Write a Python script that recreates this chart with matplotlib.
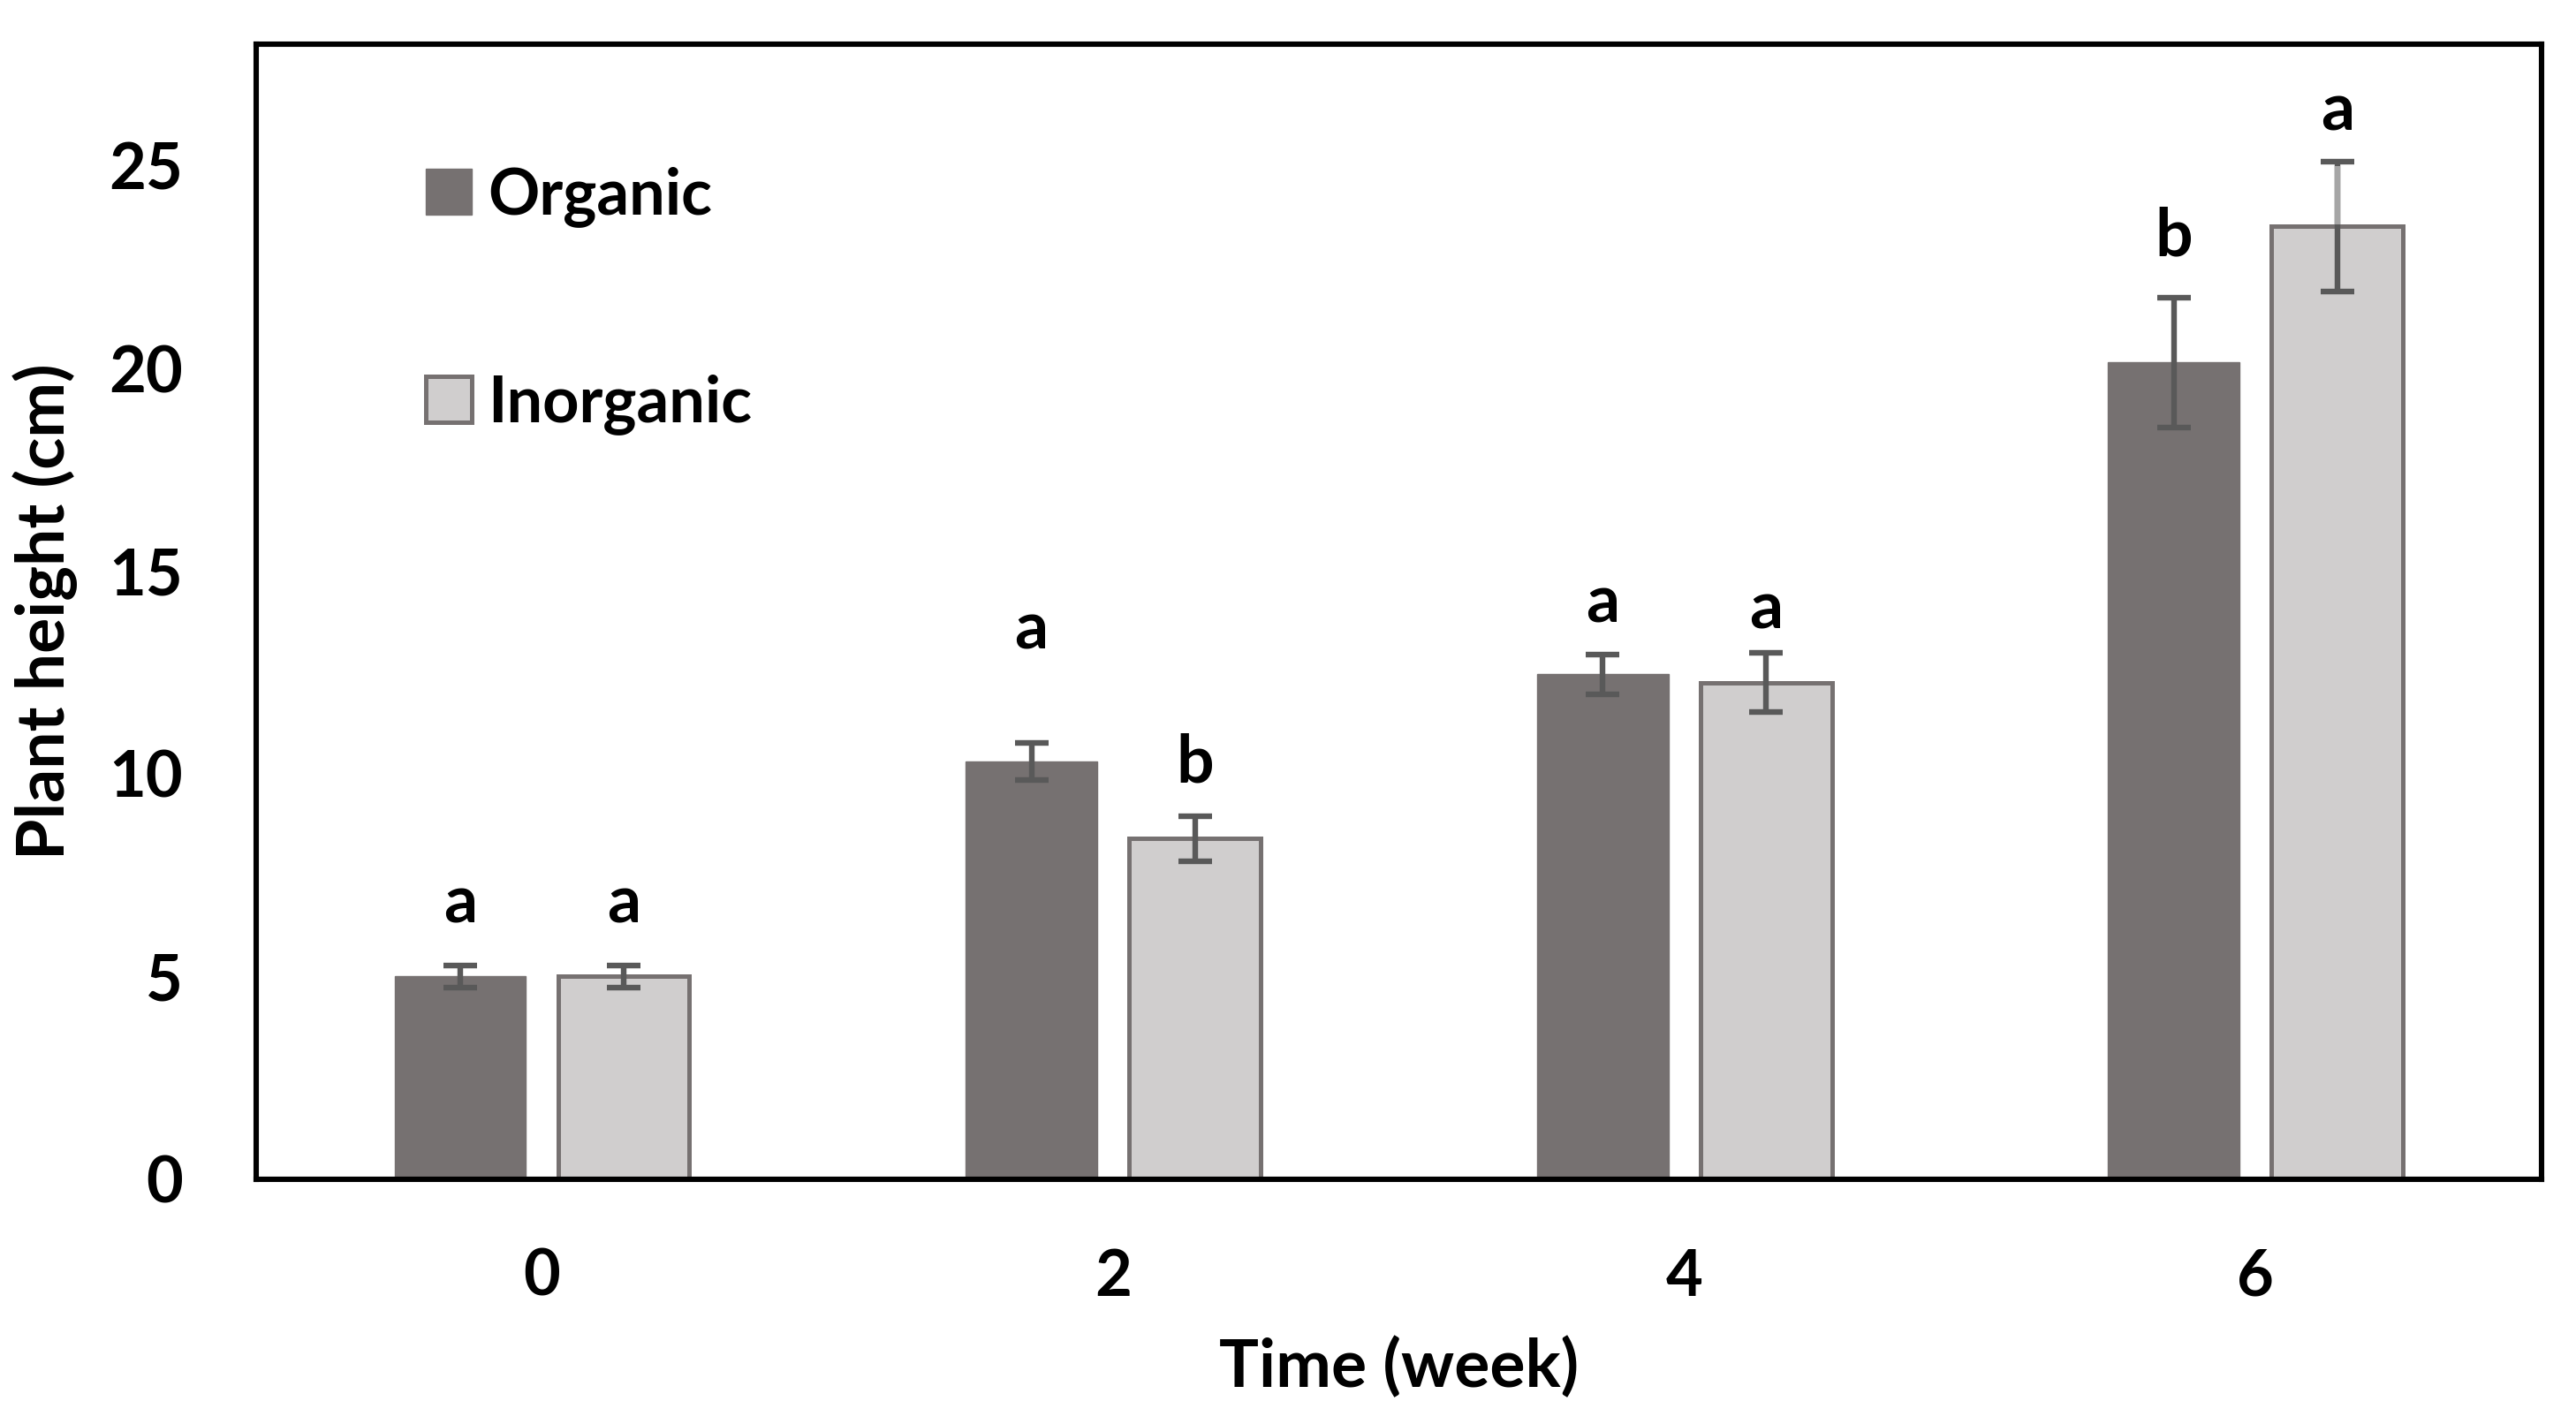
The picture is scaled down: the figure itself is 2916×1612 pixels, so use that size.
import numpy as np
import matplotlib
matplotlib.use("Agg")
import matplotlib.pyplot as plt

plt.rcParams['font.family'] = ['Lato', 'DejaVu Sans']
plt.rcParams['font.weight'] = 'bold'

weeks = ['0', '2', '4', '6']
organic = [5.0, 10.3, 12.45, 20.15]
organic_err = [0.27, 0.45, 0.5, 1.6]
inorganic = [5.0, 8.4, 12.25, 23.5]
inorganic_err = [0.27, 0.55, 0.73, 1.6]
organic_letters = ['a', 'a', 'a', 'b']
inorganic_letters = ['a', 'b', 'a', 'a']
organic_letter_y = [6.8, 13.55, 14.2, 23.25]
inorganic_letter_y = [6.8, 10.25, 14.05, 26.35]

dark = '#767171'
light = '#D0CECE'
errc = '#595959'

fig = plt.figure(figsize=(14.58, 8.06), dpi=200)
ax = fig.add_axes([0.0995, 0.172, 0.887, 0.797])

x = np.arange(len(weeks))
w = 0.23
off = 0.143

ax.bar(x - off, organic, w, color=dark, edgecolor=dark, linewidth=0.5, label='Organic', zorder=2)
ax.bar(x + off, inorganic, w, color=light, edgecolor=dark, linewidth=1.8, label='Inorganic', zorder=2)
ax.errorbar(x - off, organic, yerr=organic_err, fmt='none', ecolor=errc, elinewidth=2.3,
            capsize=6.8, capthick=2.3, zorder=3)
ax.errorbar(x + off, inorganic, yerr=inorganic_err, fmt='none', ecolor=errc, elinewidth=2.3,
            capsize=6.8, capthick=2.3, zorder=3)
# the upper whisker of the last inorganic bar is drawn lighter in the original
ax.plot([x[-1] + off] * 2, [inorganic[-1] + 0.05, inorganic[-1] + inorganic_err[-1] - 0.1],
        color='#A6A6A6', lw=2.3, zorder=4, solid_capstyle='butt')

for i in range(len(weeks)):
    ax.text(x[i] - off, organic_letter_y[i], organic_letters[i], ha='center', va='center',
            fontsize=27, fontweight='bold')
    ax.text(x[i] + off, inorganic_letter_y[i], inorganic_letters[i], ha='center', va='center',
            fontsize=27, fontweight='bold')

ax.set_xlim(-0.5, 3.5)
ax.set_ylim(0, 28)
ax.set_yticks([0, 5, 10, 15, 20, 25])
ax.set_xticks(x)
ax.set_xticklabels(weeks)
ax.tick_params(length=0, labelsize=26, pad=30)
ax.tick_params(axis='x', pad=28)
for s in ax.spines.values():
    s.set_linewidth(2.2)
    s.set_color('black')

ax.set_xlabel('Time (week)', fontsize=27, fontweight='bold', labelpad=12)
ax.set_ylabel('Plant height (cm)', fontsize=27, fontweight='bold')
ax.yaxis.set_label_coords(-0.078, 0.5)

leg = ax.legend(loc='upper left', bbox_to_anchor=(0.049, 0.943), frameon=False, fontsize=26,
                handlelength=0.72, handleheight=0.72, handletextpad=0.25, labelspacing=2.3)

fig.savefig('out.png', dpi=200)
